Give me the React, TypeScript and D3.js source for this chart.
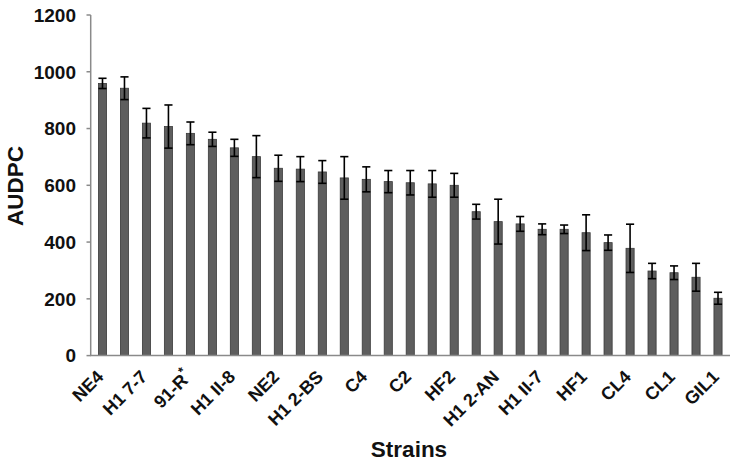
import React from "react";
import * as d3 from "d3";

const strains = [
  "NE4", "", "H1 7-7", "", "91-R", "", "H1 II-8", "", "NE2", "", "H1 2-BS", "", "C4", "", "C2", "",
  "HF2", "", "H1 2-AN", "", "H1 II-7", "", "HF1", "", "CL4", "", "CL1", "", "GIL1",
];
const superscripts = ["", "", "", "", "*", "", "", "", "", "", "", "", "", "", "", "", "", "", "", "", "", "", "", "", "", "", "", "", ""];
const audpc = [
  959, 942, 819, 807, 783, 762, 732, 701, 660, 657, 647, 626, 621, 613, 609, 605,
  600, 507, 472, 464, 445, 445, 433, 398, 378, 298, 292, 276, 202,
];
const errors = [
  18, 40, 52, 76, 40, 25, 30, 74, 46, 44, 40, 75, 44, 39, 43, 47,
  42, 26, 79, 26, 19, 15, 63, 27, 85, 27, 24, 49, 21,
];
const yTicks = [0, 200, 400, 600, 800, 1000, 1200];

const W = 733;
const H = 465;
const FONT = "'Liberation Sans', Arial, Helvetica, sans-serif";

export default function App() {
  const idx = strains.map((_, i) => i);
  const x = d3.scaleBand<number>().domain(idx).range([91.5, 729]).paddingInner(0.63).paddingOuter(0.315);
  const y = d3.scaleLinear().domain([0, 1200]).range([355.6, 15]);
  const bw = x.bandwidth();
  const cx = (i: number) => (x(i) as number) + bw / 2;
  const axisColor = "#8a8a8a";

  return (
    <svg width={W} height={H} style={{ position: "absolute", left: 0, top: 0, background: "#fff" }} fontFamily={FONT}>
      {/* bars */}
      {audpc.map((v, i) => (
        <rect key={"b" + i} x={x(i)} y={y(v)} width={bw} height={y(0) - y(v)} fill="#5e5e5e" stroke="#3a3a3a" strokeWidth={0.8} />
      ))}
      {/* error bars */}
      {audpc.map((v, i) => {
        const c = cx(i);
        const t = y(v + errors[i]);
        const b = y(v - errors[i]);
        const hw = bw / 2;
        return (
          <g key={"e" + i} stroke="#000" strokeWidth={1.6}>
            <line x1={c} x2={c} y1={t} y2={b} />
            <line x1={c - hw} x2={c + hw} y1={t} y2={t} />
            <line x1={c - hw} x2={c + hw} y1={b} y2={b} />
          </g>
        );
      })}
      {/* y axis */}
      <line x1={90.7} x2={90.7} y1={y(1200)} y2={y(0)} stroke={axisColor} strokeWidth={1.5} />
      {yTicks.map((t) => (
        <g key={"t" + t}>
          <line x1={86.5} x2={90.7} y1={y(t)} y2={y(t)} stroke={axisColor} strokeWidth={1.5} />
          <text x={76} y={y(t)} dy="0.36em" textAnchor="end" fontSize={19} fontWeight="bold" fill="#111">
            {t}
          </text>
        </g>
      ))}
      {/* x axis */}
      <line x1={90} x2={730} y1={y(0)} y2={y(0)} stroke={axisColor} strokeWidth={1.5} />
      {strains.map((s, i) =>
        s ? (
          <text
            key={"l" + i}
            transform={`translate(${cx(i) + 2},${378}) rotate(-45)`}
            textAnchor="end"
            fontSize={18}
            fontWeight="bold"
            fill="#111"
          >
            {s}
            {superscripts[i] ? (
              <tspan fontSize={13} dy={-8}>{superscripts[i]}</tspan>
            ) : null}
          </text>
        ) : null
      )}
      {/* titles */}
      <text transform={`translate(23,186) rotate(-90)`} textAnchor="middle" fontSize={22.5} fontWeight="bold" fill="#111">
        AUDPC
      </text>
      <text x={409} y={456.5} textAnchor="middle" fontSize={22.5} fontWeight="bold" fill="#111">
        Strains
      </text>
    </svg>
  );
}
